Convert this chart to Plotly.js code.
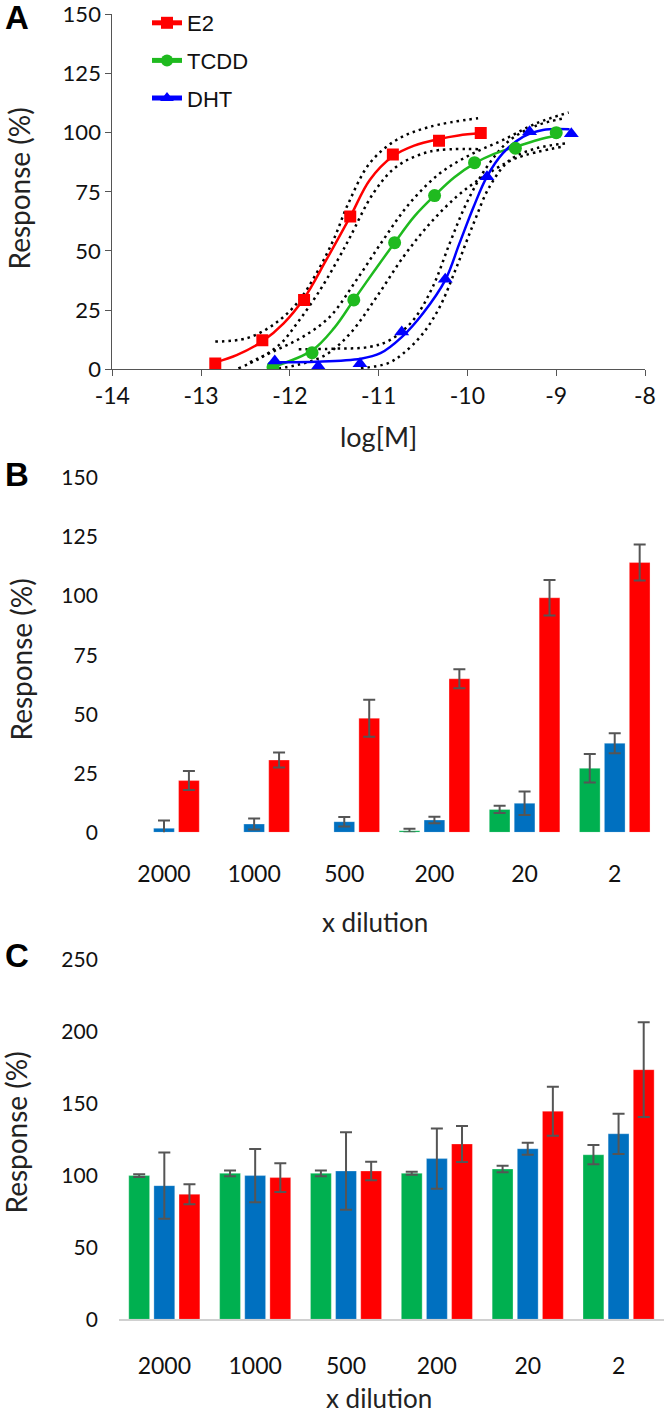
<!DOCTYPE html>
<html>
<head>
<meta charset="utf-8">
<script src="https://cdn.plot.ly/plotly-3.0.1.min.js"></script>
<style>
  body { margin: 0; background: #fff; }
  #chart { width: 664px; height: 1415px; }
</style>
</head>
<body>
<div id="chart"></div>
<script>
// Panel A: concentration-response
var e2X = [-12.84, -12.31, -11.84, -11.32, -10.84, -10.32, -9.85];
var e2Y = [2.5, 12.3, 29.3, 64.6, 90.8, 96.6, 99.8];
var tcddX = [-12.19, -11.75, -11.28, -10.82, -10.37, -9.92, -9.46, -9.0];
var tcddY = [1, 7, 29.3, 53.5, 73.4, 87.3, 93.4, 100];
var dhtX = [-12.17, -11.68, -11.21, -10.74, -10.25, -9.78, -9.30, -8.83];
var dhtY = [3.5, 1.3, 2.3, 15.8, 38, 81.4, 100.4, 99.5];

// fitted curves as traced on the picture
var e2FitX = [-12.84, -12.6, -12.31, -12.07, -11.84, -11.59, -11.32, -11.1, -10.84, -10.6, -10.32, -10.1, -9.85];
var e2FitY = [3, 6, 11.8, 19.4, 30, 46.2, 64.5, 80, 90, 94.5, 97.3, 98.8, 99.8];
var tcddFitX = [-12.19, -11.75, -11.5, -11.28, -11.05, -10.82, -10.6, -10.37, -10.15, -9.92, -9.7, -9.46, -9.2, -9.0];
var tcddFitY = [1, 8, 17.5, 29.3, 41.5, 53.5, 64.5, 73.4, 81, 87, 91, 94, 97, 98.8];
var dhtFitX = [-12.17, -11.7, -11.2, -10.98, -10.74, -10.5, -10.25, -10.09, -9.93, -9.78, -9.6, -9.37, -9.15, -8.85];
var dhtFitY = [3, 3.2, 4.5, 6.8, 13.6, 23.7, 37.7, 53.2, 68.7, 81.4, 91.3, 98.3, 101.1, 101.4];

// 95% bands (dotted)
var e2UpX = [-12.84, -12.49, -12.19, -11.92, -11.70, -11.51, -11.34, -11.10, -10.80, -10.42, -9.88];
var e2UpY = [11.7, 13.1, 18.7, 27.9, 40.6, 54.6, 70.2, 87.1, 96.9, 102.5, 106.1];
var e2LoX = [-12.58, -12.34, -12.1, -11.92, -11.66, -11.44, -11.32, -11.06, -10.80, -10.42, -9.88];
var e2LoY = [0.4, 4.6, 11, 19.4, 33.5, 47.6, 56, 74.4, 85.6, 92, 93];
var tcddUpX = [-12.45, -12.15, -11.85, -11.55, -11.25, -10.95, -10.65, -10.31, -9.97, -9.60, -9.22, -8.86];
var tcddUpY = [3, 8.2, 13.8, 22.2, 37.7, 54.6, 70.2, 82.8, 90.6, 96.9, 104, 108.5];
var tcddLoX = [-12.2, -11.9, -11.6, -11.32, -11.02, -10.72, -10.42, -10.12, -9.82, -9.45, -8.92];
var tcddLoY = [0, 2, 6, 15.2, 30.7, 47.6, 61.7, 73, 81.4, 89.2, 94.1];
var dhtUpX = [-11.9, -11.5, -11.1, -10.87, -10.61, -10.39, -10.20, -10.01, -9.78, -9.52, -9.22, -8.92];
var dhtUpY = [8.5, 8.7, 9.5, 12.4, 20.8, 34.9, 53.2, 70.2, 85.6, 96.9, 103, 106];
var dhtLoX = [-11.2, -10.9, -10.72, -10.5, -10.31, -10.12, -9.93, -9.75, -9.52, -9.22, -8.88];
var dhtLoY = [0.5, 2.5, 6.8, 15.2, 26.5, 43.4, 61.7, 77.2, 88.5, 93.4, 95.5];

var xTickVals = [-14, -13, -12, -11, -10, -9, -8];
var xTickText = ['-14', '-13', '-12', '-11', '-10', '-9', '-8'];

// Panels B and C: bar charts
var dilutions = ['2000', '1000', '500', '200', '20', '2'];
var bGreen = [null, null, null, 0.7, 9.7, 27.1];
var bGreenErr = [0, 0, 0, 0.8, 1.5, 6];
var bBlue = [1.7, 3.5, 4.5, 5.2, 12.3, 37.7];
var bBlueErr = [3.3, 2.3, 2, 1.4, 5, 4.2];
var bRed = [21.9, 30.6, 48.3, 65, 99.3, 114.2];
var bRedErr = [4, 3.2, 7.8, 4, 7.5, 7.6];

var cGreen = [100, 101.6, 101.6, 101.6, 104.6, 114.5];
var cGreenErr = [1, 2, 2, 1, 2.3, 6.7];
var cBlue = [93, 100, 103.2, 111.8, 118.7, 129.1];
var cBlueErr = [23, 18.5, 27, 21, 4.2, 14];
var cRed = [87, 98.6, 103.2, 122, 144.8, 173.7];
var cRedErr = [7, 10, 6.5, 12.5, 17, 33];

var RED = '#ff0000', GREEN = '#1fba1f', BLUE = '#0000ff';
var BAR_GREEN = '#00b050', BAR_BLUE = '#0070c0', BAR_RED = '#ff0000';

function band(x, y) {
  return { x: x, y: y, type: 'scatter', mode: 'lines', showlegend: false, hoverinfo: 'skip',
    line: { color: '#000', width: 2.5, dash: '2.5px,4px', shape: 'spline' }, xaxis: 'x', yaxis: 'y' };
}
// the curve carries the legend entry; its own markers are made invisibly small
function fit(x, y, name, color, symbol) {
  return { x: x, y: y, type: 'scatter', mode: 'lines+markers', name: name, legendgroup: name,
    line: { color: color, width: 2.5, shape: 'spline' },
    marker: { color: color, size: 0.1, symbol: symbol, line: { width: 0 } }, xaxis: 'x', yaxis: 'y' };
}
function pts(x, y, name, color, symbol, size) {
  return { x: x, y: y, type: 'scatter', mode: 'markers', showlegend: false, legendgroup: name,
    marker: { color: color, size: size, symbol: symbol }, xaxis: 'x', yaxis: 'y' };
}
function bar(vals, errs, color, name, xa, ya) {
  return { x: dilutions, y: vals, type: 'bar', name: name, showlegend: false,
    marker: { color: color, line: { color: 'rgba(255,255,255,0.6)', width: 0.5 } },
    error_y: { type: 'data', array: errs, visible: true, color: '#555', thickness: 2, width: 6 },
    xaxis: xa, yaxis: ya };
}

var data = [
  band(e2UpX, e2UpY), band(e2LoX, e2LoY),
  band(tcddUpX, tcddUpY), band(tcddLoX, tcddLoY),
  band(dhtUpX, dhtUpY), band(dhtLoX, dhtLoY),
  fit(e2FitX, e2FitY, 'E2', RED, 'square'),
  fit(tcddFitX, tcddFitY, 'TCDD', GREEN, 'circle'),
  fit(dhtFitX, dhtFitY, 'DHT', BLUE, 'triangle-up'),
  pts(e2X, e2Y, 'E2', RED, 'square', 12),
  pts(tcddX, tcddY, 'TCDD', GREEN, 'circle', 13),
  pts(dhtX, dhtY, 'DHT', BLUE, 'triangle-up', 13),
  bar(bGreen, bGreenErr, BAR_GREEN, 'TCDD', 'x2', 'y2'),
  bar(bBlue, bBlueErr, BAR_BLUE, 'DHT', 'x2', 'y2'),
  bar(bRed, bRedErr, BAR_RED, 'E2', 'x2', 'y2'),
  bar(cGreen, cGreenErr, BAR_GREEN, 'TCDD', 'x3', 'y3'),
  bar(cBlue, cBlueErr, BAR_BLUE, 'DHT', 'x3', 'y3'),
  bar(cRed, cRedErr, BAR_RED, 'E2', 'x3', 'y3')
];

var W = 664, H = 1415;
function px(v) { return v / W; }
function py(v) { return 1 - v / H; }

var FONT = 'Lato, "Open Sans", sans-serif';
var BOLD = { family: 'Liberation Sans, Arial, sans-serif', size: 33, color: '#000', weight: 'bold' };
var axisGrey = '#555';

var catAxis = {
  type: 'category', showgrid: false, zeroline: false, ticks: '',
  tickfont: { family: FONT, size: 23, color: '#111' }, ticklabelstandoff: 26
};
var valAxis = {
  showgrid: false, zeroline: false, showline: false, ticks: '',
  tickfont: { family: FONT, size: 21, color: '#111' }, ticklabelstandoff: 20
};

function label(text, x, y, font, angle) {
  return { text: text, x: px(x), y: py(y), xref: 'paper', yref: 'paper', showarrow: false,
    xanchor: 'center', yanchor: 'middle', textangle: angle || 0, font: font };
}
var titleFont = { family: FONT, size: 28, color: '#222' };
var xTitleFont = { family: FONT, size: 26, color: '#222' };

var layout = {
  width: W, height: H,
  margin: { l: 0, r: 0, t: 0, b: 0 },
  paper_bgcolor: '#fff', plot_bgcolor: '#fff',
  font: { family: FONT, color: '#111' },
  barmode: 'group', bargap: 0.17, bargroupgap: 0.17,
  showlegend: true,
  legend: {
    x: px(147), y: py(2), xanchor: 'left', yanchor: 'top',
    font: { family: 'Liberation Sans, Arial, sans-serif', size: 22, color: '#111' },
    traceorder: 'grouped', itemsizing: 'constant', tracegroupgap: 6, bgcolor: 'rgba(0,0,0,0)'
  },
  xaxis: {
    domain: [px(112.3), px(645)], range: [-14, -8], anchor: 'y',
    tickvals: xTickVals, ticktext: xTickText,
    ticks: 'outside', ticklen: 6, tickcolor: axisGrey, showline: true, linecolor: axisGrey,
    showgrid: false, zeroline: false, tickfont: { family: FONT, size: 23, color: '#111' }
  },
  yaxis: {
    domain: [py(369.3), py(14.3)], range: [0, 150], dtick: 25, anchor: 'x',
    ticks: 'outside', ticklen: 6, tickcolor: axisGrey, showline: true, linecolor: axisGrey,
    showgrid: false, zeroline: false, tickfont: { family: FONT, size: 22, color: '#111' }
  },
  xaxis2: Object.assign({}, catAxis, { domain: [px(118.9), px(659.8)], anchor: 'y2', showline: false }),
  yaxis2: Object.assign({}, valAxis, { domain: [py(832.3), py(478)], range: [0, 150], dtick: 25, anchor: 'x2' }),
  xaxis3: Object.assign({}, catAxis, { domain: [px(118.9), 1], anchor: 'y3', showline: true, linecolor: '#d0d0d0', linewidth: 1.5 }),
  yaxis3: Object.assign({}, valAxis, { domain: [py(1319.3), py(960)], range: [0, 250], dtick: 50, anchor: 'x3' }),
  annotations: [
    label('A', 17, 17.5, BOLD),
    label('B', 17, 474, BOLD),
    label('C', 17, 955, BOLD),
    label('Response (%)', 18, 188.5, titleFont, -90),
    label('Response (%)', 20, 659.5, titleFont, -90),
    label('Response (%)', 15, 1132.5, titleFont, -90),
    label('log[M]', 378.6, 436.7, { family: FONT, size: 27, color: '#222' }),
    label('x dilution', 375, 921.7, xTitleFont),
    label('x dilution', 379, 1398, xTitleFont)
  ]
};

Plotly.newPlot('chart', data, layout, { staticPlot: true });
</script>
</body>
</html>
